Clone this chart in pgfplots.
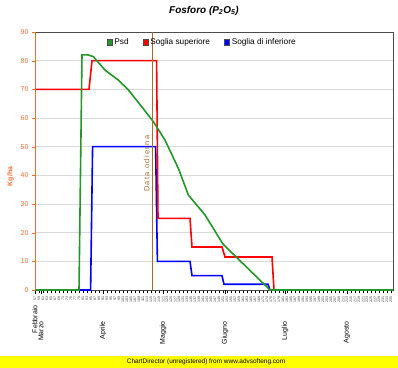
\documentclass[border=0pt]{standalone}
\usepackage{pgfplots}
\pgfplotsset{compat=1.18}
\usepackage{fontspec}
\setmainfont{Liberation Sans}
\definecolor{psd}{HTML}{23972A}
\definecolor{sred}{HTML}{FF0000}
\definecolor{sblue}{HTML}{0000FF}
\definecolor{brownl}{HTML}{A86B2F}
\definecolor{axorange}{HTML}{FF6A33}
\definecolor{yband}{HTML}{FFFF00}
\begin{document}
\begin{tikzpicture}
\begin{axis}[
  scale only axis, width=358bp, height=258bp,
  xmin=57, xmax=236, ymin=0, ymax=90,
  ytick={0,10,...,90},
  /pgf/number format/assume math mode=true,
  xtick pos=bottom, ytick pos=left,
  ymajorgrids, grid style={gray!30, line width=0.8bp},
  axis line style={draw=gray!60!black, line width=0.8bp},
  tick align=outside, major tick length=3bp,
  y tick style={axorange},
  yticklabel style={font=\fontsize{7}{7}\selectfont, text=axorange},
  ylabel={Kg/ha},
  ylabel style={font=\bfseries\fontsize{7}{7}\selectfont, text=axorange, at={(ticklabel cs:0.44)}},
  xtick={57,59,...,235},
  x tick style={black},
  xticklabel style={rotate=90, anchor=east, font=\fontsize{3.6}{3.6}\selectfont, text=black!75},
  extra x ticks={57,60,91,121,152,182,213},
  extra x tick labels={Febbraio\hspace{8bp}\null,Marzo\hspace{24bp}\null,Aprile\hspace{24bp}\null,Maggio\hspace{24bp}\null,Giugno\hspace{24bp}\null,Luglio\hspace{24bp}\null,Agosto\hspace{24bp}\null},
  extra x tick style={xticklabel style={font=\fontsize{7}{7}\selectfont, text=black}, major tick length=4bp},
  title={\bfseries\itshape Fosforo (P\textsubscript{2}O\textsubscript{5})},
  title style={at={(0.472,1)}, anchor=south, yshift=7bp, font=\fontsize{10}{12}\selectfont},
  legend reversed,
  legend columns=3,
  legend cell align=left,
  legend style={at={(0.467,0.961)}, anchor=center, draw=none, fill=none,
    font=\fontsize{8.3}{9}\selectfont, /tikz/every even column/.append style={column sep=12bp}},
  legend image code/.code={\draw[#1, fill, draw=black!70, line width=0.3bp] (0bp,-2.7bp) rectangle (5.4bp,2.7bp);},
]
\coordinate (O) at (rel axis cs:0,0);
\addplot[sblue, line width=1.6bp] coordinates {(57,0) (84.8,0) (85.8,50) (117.3,50) (118.2,10) (134.5,10) (135.5,5) (150.5,5) (151.5,2) (173.5,2) (174.5,0) (236,0)};
\addlegendentry{Soglia di inferiore}
\addplot[sred, line width=1.6bp] coordinates {(57,70) (84,70) (85.5,80) (117.8,80) (118.5,25) (134.5,25) (135.5,15) (150.5,15) (152,11.5) (175.5,11.5) (176.5,0) (236,0)};
\addlegendentry{Soglia superiore}
\addplot[psd, line width=1.6bp] coordinates {(57,0) (79,0) (80.5,82) (83.5,82) (86.2,81.4) (92,76.7) (98.7,73.2) (103.7,69.8) (110.4,63.9) (116.2,58.7) (122,52.3) (128.7,42.4) (133.7,33.1) (142,26.2) (151,16) (173.5,0.7) (174.5,0) (236,0)};
\addlegendentry{Psd}
\draw[brownl, line width=1bp] (axis cs:115.5,0) -- (axis cs:115.5,90);
\node[rotate=90, anchor=south, inner sep=1bp, text=brownl, font=\fontsize{7.5}{7.5}\selectfont\addfontfeature{LetterSpace=18}] at (axis cs:114.8,44) {Data odierna};
\draw[axorange, line width=0.8bp] (rel axis cs:0,0) -- (rel axis cs:0,1);
\end{axis}
\fill[yband] ([xshift=-35bp,yshift=-78bp]O) rectangle ++(398bp,12bp);
\node[font=\fontsize{6.5}{6.5}\selectfont, anchor=center] at ([xshift=171bp,yshift=-72bp]O) {ChartDirector (unregistered) from www.advsofteng.com};
\pgfresetboundingbox
\path ([xshift=-35bp,yshift=-78bp]O) rectangle ++(398bp,368bp);
\end{tikzpicture}
\end{document}
